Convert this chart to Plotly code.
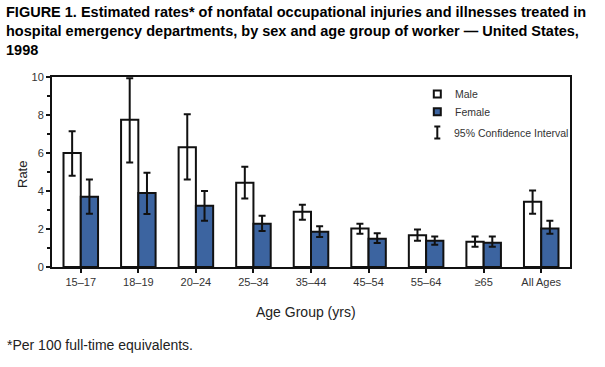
import plotly.graph_objects as go

categories = ["15–17", "18–19", "20–24", "25–34", "35–44", "45–54", "55–64", "≥65", "All Ages"]
male_rate = [6.0, 7.75, 6.3, 4.44, 2.91, 2.02, 1.67, 1.33, 3.44]
male_ci_upper = [7.15, 9.93, 8.04, 5.28, 3.28, 2.28, 1.98, 1.61, 4.02]
male_ci_lower = [4.8, 5.5, 4.6, 3.6, 2.49, 1.75, 1.38, 1.07, 2.8]
female_rate = [3.7, 3.9, 3.23, 2.28, 1.86, 1.49, 1.38, 1.28, 2.02]
female_ci_upper = [4.6, 4.96, 4.0, 2.7, 2.14, 1.77, 1.61, 1.61, 2.44]
female_ci_lower = [2.8, 2.79, 2.44, 1.89, 1.58, 1.26, 1.17, 1.07, 1.75]

W, H = 605, 367
L, R, T, B = 52, 35, 77, 100
pw, ph = W - L - R, H - T - B

def px(x):
    return (x - L) / pw

def py(y):
    return (H - B - y) / ph

TXT = "#333333"
BLUE = "#3C64A0"
FONT = "Liberation Sans, Arial, Helvetica, sans-serif"

def err(vals, up, lo):
    return dict(type="data", symmetric=False,
                array=[u - v for u, v in zip(up, vals)],
                arrayminus=[v - l for v, l in zip(vals, lo)],
                color="#111111", thickness=2, width=3.5)

fig = go.Figure()
fig.add_trace(go.Bar(x=categories, y=male_rate, name="Male",
                     marker=dict(color="white", line=dict(color="#111111", width=2)),
                     error_y=err(male_rate, male_ci_upper, male_ci_lower)))
fig.add_trace(go.Bar(x=categories, y=female_rate, name="Female",
                     marker=dict(color=BLUE, line=dict(color="#111111", width=2)),
                     error_y=err(female_rate, female_ci_upper, female_ci_lower)))

fig.update_layout(
    width=W, height=H,
    margin=dict(l=L, r=R, t=T, b=B),
    paper_bgcolor="white", plot_bgcolor="white",
    barmode="group", bargap=0.4, bargroupgap=0,
    showlegend=False,
    font=dict(family=FONT, color=TXT, size=11),
    xaxis=dict(
        showline=True, linecolor="#111111", linewidth=2, mirror=True,
        ticks="outside", ticklen=4, tickwidth=2, tickcolor="#111111",
        tickfont=dict(size=11, color=TXT),
        range=[-0.5, 8.5], fixedrange=True,
    ),
    yaxis=dict(
        range=[0, 10], tickvals=[0, 2, 4, 6, 8, 10],
        showline=True, linecolor="#111111", linewidth=2, mirror=True,
        ticks="outside", ticklen=4, tickwidth=2, tickcolor="#111111",
        tickfont=dict(size=11, color=TXT),
        minor=dict(tickvals=[1, 3, 5, 7, 9], ticks="outside", ticklen=3, tickwidth=2, tickcolor="#111111"),
        showgrid=False, zeroline=False,
        fixedrange=True,
    ),
)

# Manual legend
shapes = []
sq = 3.5
for yc, fill in [(94, "white"), (111.7, BLUE)]:
    shapes.append(dict(type="rect", xref="paper", yref="paper",
                       x0=px(437.3 - sq), x1=px(437.3 + sq), y0=py(yc + sq), y1=py(yc - sq),
                       fillcolor=fill, line=dict(color="#111111", width=2)))
cx, ytop, ybot = 437.3, 126.5, 138.5
shapes.append(dict(type="line", xref="paper", yref="paper", x0=px(cx), x1=px(cx), y0=py(ybot), y1=py(ytop),
                   line=dict(color="#111111", width=2)))
for yy in (ytop, ybot):
    shapes.append(dict(type="line", xref="paper", yref="paper", x0=px(cx - 3), x1=px(cx + 3), y0=py(yy), y1=py(yy),
                       line=dict(color="#111111", width=2)))
fig.update_layout(shapes=shapes)

ann = [
    dict(text="Male", x=px(453), y=py(94)),
    dict(text="Female", x=px(453), y=py(111.7)),
    dict(text="95% Confidence Interval", x=px(452), y=py(132.5)),
]
annotations = []
for a in ann:
    annotations.append(dict(text=a["text"], x=a["x"], y=a["y"], xref="paper", yref="paper",
                            xanchor="left", yanchor="middle", showarrow=False,
                            font=dict(size=10.5, color=TXT)))
annotations.append(dict(
    text="FIGURE 1. Estimated rates* of nonfatal occupational injuries and illnesses treated in<br>"
         "hospital emergency departments, by sex and age group of worker — United States,<br>1998",
    x=px(4), y=py(2), xref="paper", yref="paper", xanchor="left", yanchor="top", align="left",
    showarrow=False, font=dict(family=FONT, size=14.5, color="black", weight="bold")))
annotations.append(dict(text="Age Group (yrs)", x=px(306), y=py(312), xref="paper", yref="paper",
                        xanchor="center", yanchor="middle", showarrow=False,
                        font=dict(size=14, color="#222222")))
annotations.append(dict(text="Rate", x=px(22), y=py(175), xref="paper", yref="paper", textangle=-90,
                        xanchor="center", yanchor="middle", showarrow=False,
                        font=dict(size=13, color="#222222")))
annotations.append(dict(text="*Per 100 full-time equivalents.", x=px(5), y=py(345),
                        xref="paper", yref="paper", xanchor="left", yanchor="middle",
                        showarrow=False, font=dict(size=14, color="#222222")))
fig.update_layout(annotations=annotations)

fig.write_html("out.html", config={"displayModeBar": False},
               post_script="document.body.style.margin='0';")
